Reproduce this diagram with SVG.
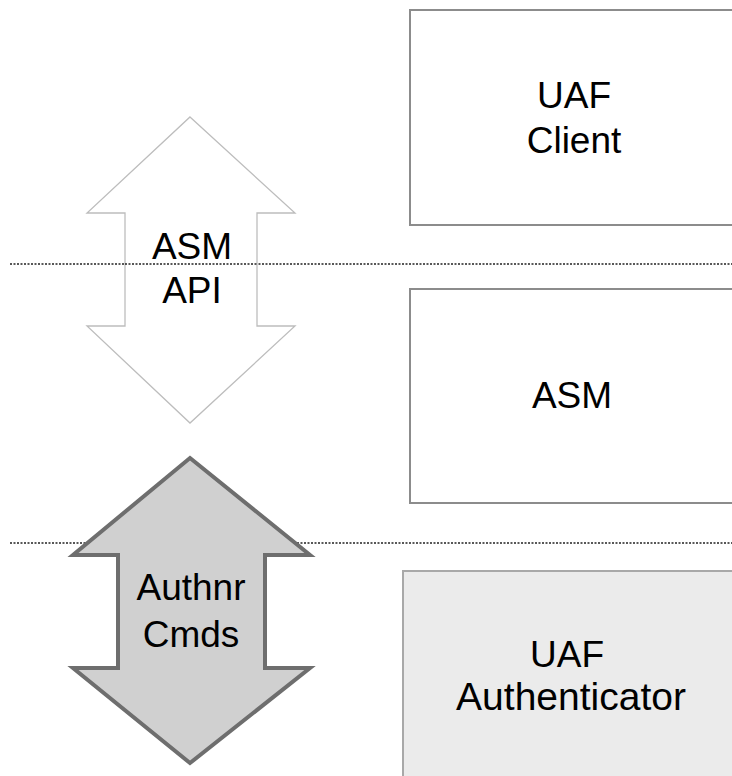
<svg xmlns="http://www.w3.org/2000/svg" width="732" height="776" viewBox="0 0 732 776">
<style>
.lbl{font-family:"Liberation Sans",Arial,sans-serif;font-size:37px;fill:#000;text-anchor:middle}
.sep{stroke:#222;stroke-width:1.4;stroke-dasharray:2,1.5;fill:none}
.box{fill:#fff;stroke:#8c8c8c;stroke-width:2}
</style>
<rect width="732" height="776" fill="#fff"/>
<g id="connectors">
<line class="sep" x1="10" y1="264" x2="732" y2="264"/>
<line class="sep" x1="10" y1="543" x2="732" y2="543"/>
</g>
<g id="asm-api">
<polygon points="190,117 295,213 257,213 257,326 295,326 190,423 87,326 125,326 125,213 87,213" fill="#fff" stroke="#bdbdbd" stroke-width="1.3"/>
<line class="sep" x1="125" y1="264" x2="257" y2="264"/>
<text class="lbl" x="192" y="259">ASM</text>
<text class="lbl" x="192" y="303">API</text>
</g>
<g id="authnr-cmds">
<polygon points="190,458 310,555 265,555 265,668 310,668 190,763 73,668 118,668 118,555 73,555" fill="#d0d0d0" stroke="#6e6e6e" stroke-width="4" stroke-linejoin="miter"/>
<text class="lbl" x="191" y="600">Authnr</text>
<text class="lbl" x="191" y="647">Cmds</text>
</g>
<g id="uaf-client">
<rect class="box" x="410" y="10" width="330" height="215"/>
<text class="lbl" x="574" y="108">UAF</text>
<text class="lbl" x="574" y="153">Client</text>
</g>
<g id="asm">
<rect class="box" x="410" y="289" width="330" height="214"/>
<text class="lbl" x="572" y="408">ASM</text>
</g>
<g id="uaf-authenticator">
<rect x="403" y="571" width="340" height="220" fill="#ebebeb" stroke="#a8a8a8" stroke-width="2"/>
<text class="lbl" x="567" y="667">UAF</text>
<text class="lbl" x="571" y="710" style="font-size:39px">Authenticator</text>
</g>
</svg>
